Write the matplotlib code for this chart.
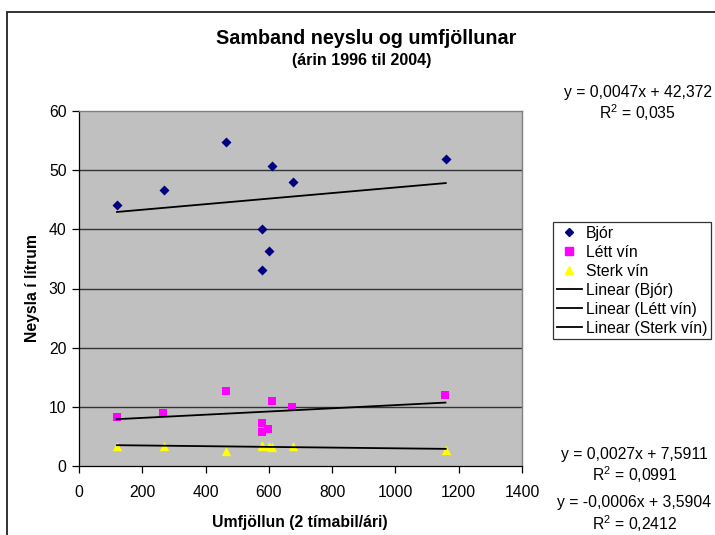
import matplotlib
matplotlib.use("Agg")
import matplotlib.pyplot as plt
import numpy as np
from matplotlib.patches import Rectangle
from matplotlib.lines import Line2D

plt.rcParams['font.family'] = ['Liberation Sans', 'DejaVu Sans']
plt.rcParams['mathtext.fontset'] = 'custom'
plt.rcParams['mathtext.rm'] = 'Liberation Sans'

# ---- data ----
bjor_x = [120, 269, 464, 579, 579, 600, 611, 675, 1159]
bjor_y = [44.1, 46.6, 54.7, 40.1, 33.2, 36.3, 50.7, 48.0, 51.9]
lett_x = [119, 267, 463, 579, 579, 598, 609, 673, 1158]
lett_y = [8.2, 9.0, 12.6, 7.3, 5.8, 6.3, 11.0, 10.0, 12.0]
sterk_x = [120, 269, 464, 579, 579, 600, 611, 675, 1159]
sterk_y = [3.4, 3.4, 2.6, 3.5, 3.4, 3.3, 3.2, 3.3, 2.75]

series_names = ['Bjór', 'Létt vín', 'Sterk vín']
trend_slope = [0.0047, 0.0027, -0.0006]
trend_icept = [42.372, 7.5911, 3.5904]
trend_r2 = ['0,035', '0,0991', '0,2412']
trend_eq = ['y = 0,0047x + 42,372', 'y = 0,0027x + 7,5911', 'y = -0,0006x + 3,5904']

x_ticks = [0, 200, 400, 600, 800, 1000, 1200, 1400]
y_ticks = [0, 10, 20, 30, 40, 50, 60]

W, H = 715, 535
FS = 11.3
fig = plt.figure(figsize=(W / 100, H / 100), dpi=100)
fig.patch.set_facecolor('white')

def fx(px):
    return px / W

def fy(py):
    return 1 - py / H

# chart-area border
fig.patches.append(Rectangle((fx(7), fy(560)), fx(720) - fx(7), fy(12) - fy(560),
                             transform=fig.transFigure, fill=False,
                             edgecolor='#222222', linewidth=1.3, clip_on=False))

L, R, T, B = 79, 522, 111, 466
ax = fig.add_axes([fx(L), fy(B), fx(R) - fx(L), fy(T) - fy(B)])
ax.set_facecolor('#C0C0C0')
ax.set_xlim(0, 1400)
ax.set_ylim(0, 60)
ax.set_xticks(x_ticks)
ax.set_yticks(y_ticks)
ax.set_xticklabels([str(v) for v in x_ticks])
ax.set_yticklabels([str(v) for v in y_ticks])
ax.tick_params(direction='out', length=5, width=0.9, labelsize=FS, colors='black', pad=4)
ax.tick_params(axis='x', pad=9)
for yv in y_ticks[1:-1]:
    ax.axhline(yv, color='#333333', linewidth=1.0, zorder=1)
for s in ['top', 'right']:
    ax.spines[s].set_color('#808080')
    ax.spines[s].set_linewidth(1.0)
for s in ['left', 'bottom']:
    ax.spines[s].set_color('black')
    ax.spines[s].set_linewidth(0.9)

ax.scatter(bjor_x, bjor_y, marker='D', s=26, color='#000080', zorder=3, linewidths=0)
ax.scatter(lett_x, lett_y, marker='s', s=40, color='#FF00FF', zorder=3, linewidths=0)
ax.scatter(sterk_x, sterk_y, marker='^', s=45, color='#FFFF00', zorder=3, linewidths=0)

for xs, m, c in zip([bjor_x, lett_x, sterk_x], trend_slope, trend_icept):
    xx = np.array([min(xs), max(xs)])
    ax.plot(xx, m * xx + c, color='black', linewidth=1.3, zorder=4)

# titles
fig.text(fx(366), fy(38), 'Samband neyslu og umfjöllunar', ha='center', va='center',
         fontsize=14.2, fontweight='bold')
fig.text(fx(362), fy(60), '(árin 1996 til 2004)', ha='center', va='center',
         fontsize=11.6, fontweight='bold')
fig.text(fx(32), fy(288), 'Neysla í lítrum', ha='center', va='center', rotation=90,
         fontsize=FS, fontweight='bold')
fig.text(fx(300), fy(522), 'Umfjöllun (2 tímabil/ári)', ha='center', va='center',
         fontsize=FS, fontweight='bold')

# trend equations
eq_pos = [((638, 92), (637, 113)), ((634, 454), (635, 475)), ((634, 503), (635, 524))]
for eq, r2, (p1, p2) in zip(trend_eq, trend_r2, eq_pos):
    fig.text(fx(p1[0]), fy(p1[1]), eq, ha='center', va='center', fontsize=FS)
    fig.text(fx(p2[0]), fy(p2[1]), r'R$^{2}$ = ' + r2, ha='center', va='center', fontsize=FS)

# legend
handles = [
    Line2D([], [], linestyle='none', marker='D', markersize=4.5, color='#000080'),
    Line2D([], [], linestyle='none', marker='s', markersize=5.5, color='#FF00FF'),
    Line2D([], [], linestyle='none', marker='^', markersize=6, color='#FFFF00'),
    Line2D([], [], color='black', linewidth=1.3),
    Line2D([], [], color='black', linewidth=1.3),
    Line2D([], [], color='black', linewidth=1.3),
]
labels = series_names + ['Linear (%s)' % n for n in series_names]
leg = fig.legend(handles, labels, loc='upper left', bbox_to_anchor=(fx(553), fy(222)),
                 bbox_transform=fig.transFigure, fontsize=FS, frameon=True, fancybox=False,
                 edgecolor='black', handlelength=1.6, handletextpad=0.25, borderpad=0.25,
                 labelspacing=0.25, borderaxespad=0, handleheight=0.7)
leg.get_frame().set_linewidth(0.9)

fig.savefig('out.png', dpi=100)
